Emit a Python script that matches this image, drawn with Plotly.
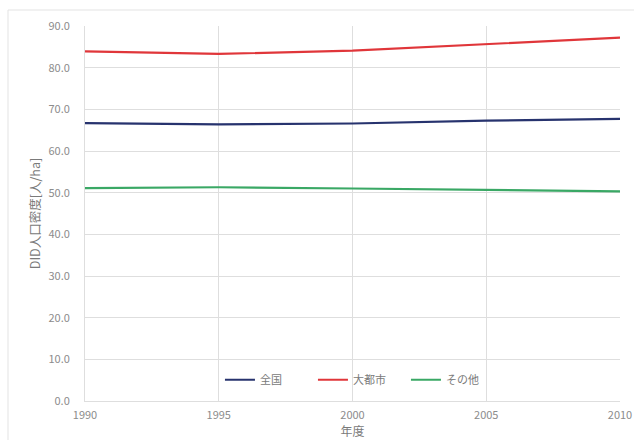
import plotly.graph_objects as go

# Fiscal years and DID population density (persons/ha)
years = [1990, 1995, 2000, 2005, 2010]
national = [66.7, 66.4, 66.6, 67.3, 67.7]
metropolitan = [83.9, 83.3, 84.1, 85.6, 87.2]
others = [51.1, 51.3, 51.0, 50.7, 50.3]

series_names = ["全国", "大都市", "その他"]
series_values = [national, metropolitan, others]
series_colors = ["#27336e", "#e0363a", "#3aa865"]

y_ticks = [0, 10, 20, 30, 40, 50, 60, 70, 80, 90]

fig = go.Figure()
for name, vals, color in zip(series_names, series_values, series_colors):
    fig.add_trace(go.Scatter(
        x=years, y=vals, name=name, mode="lines",
        line=dict(color=color, width=2.2),
    ))

font_family = "Noto Sans CJK JP, Noto Sans, sans-serif"
grid = "#dedede"
tick_color = "#8c8c8c"

fig.update_layout(
    width=634, height=440,
    margin=dict(l=85, r=14, t=26, b=39, autoexpand=False),
    paper_bgcolor="white", plot_bgcolor="white",
    font=dict(family=font_family, size=11, color=tick_color),
    showlegend=True,
    legend=dict(
        orientation="h", x=0.513, xanchor="center", y=0.018, yanchor="bottom",
        bgcolor="rgba(0,0,0,0)", font=dict(size=11, color="#7a7a7a"),
        itemwidth=30, entrywidth=48,
    ),
    xaxis=dict(
        range=[1990, 2010], tickvals=years, ticktext=[str(y) for y in years],
        showgrid=True, gridcolor=grid, gridwidth=1,
        showline=True, linecolor=grid, zeroline=False, automargin=False,
        ticks="", ticklabelstandoff=4, tickfont=dict(size=11, color=tick_color),
        title=dict(text="年度", font=dict(size=12, color="#7a7a7a"), standoff=6),
    ),
    yaxis=dict(
        range=[0, 90], tickvals=y_ticks, ticktext=[f"{v:.1f}" for v in y_ticks],
        showgrid=True, gridcolor=grid, gridwidth=1,
        showline=True, linecolor=grid, zeroline=False, automargin=False,
        ticks="", ticklabelstandoff=12,
        tickfont=dict(size=11, color=tick_color),
        title=dict(text="DID人口密度[人/ha]", font=dict(size=12.5, color="#7a7a7a"), standoff=5),
    ),
)

# Chart frame around the whole figure
fig.add_shape(
    type="rect", xref="paper", yref="paper",
    x0=-77 / 535, x1=1.2, y0=-0.2, y1=1 + 16 / 375,
    line=dict(color="#e3e3e3", width=1), fillcolor="rgba(0,0,0,0)", layer="below",
)

fig.write_html("out.html")
